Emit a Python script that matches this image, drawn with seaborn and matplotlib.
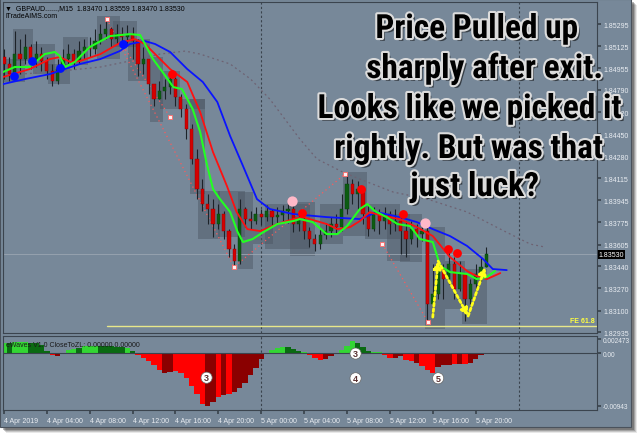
import numpy as np
import matplotlib
matplotlib.use("Agg")
import matplotlib.pyplot as plt
import matplotlib.patheffects as pe
import matplotlib.transforms as mtransforms
from matplotlib import font_manager as fm
from matplotlib.patches import Rectangle
import seaborn as sns

sns.set_theme(style="dark")
plt.rcParams["font.family"] = ["Liberation Sans", "DejaVu Sans"]

# ──────────────────────────────────────────────
# Data (GBPAUD M15, 30-min samples)
# ──────────────────────────────────────────────
first_open = 1.85042
close = [1.84989, 1.84912, 1.85065, 1.85027, 1.85119, 1.85027, 1.85065, 1.85012, 1.84935, 1.84858,
         1.84950, 1.85027, 1.85065, 1.85012, 1.85088, 1.85119, 1.85104, 1.85165, 1.85218, 1.85257,
         1.85180, 1.85218, 1.85195, 1.85218, 1.85165, 1.84989, 1.85027, 1.84835, 1.84720, 1.84782,
         1.84812, 1.84874, 1.84736, 1.84644, 1.84491, 1.84261, 1.84031, 1.83916, 1.83878, 1.83763,
         1.83839, 1.83709, 1.83571, 1.83479, 1.83878, 1.83801, 1.83786, 1.83839, 1.83816, 1.83862,
         1.83816, 1.83832, 1.83862, 1.83878, 1.83763, 1.83801, 1.83709, 1.83648, 1.83609, 1.83678,
         1.83709, 1.83763, 1.83740, 1.83878, 1.84069, 1.83992, 1.84031, 1.83839, 1.83724, 1.83839,
         1.83786, 1.83839, 1.83763, 1.83786, 1.83709, 1.83648, 1.83724, 1.83686, 1.83709, 1.83150,
         1.83226, 1.83418, 1.83341, 1.83456, 1.83265, 1.83380, 1.83188, 1.83303, 1.83380, 1.83433,
         1.83530]
high = [1.85104, 1.85042, 1.85241, 1.85180, 1.85218, 1.85142, 1.85165, 1.85119, 1.85042, 1.84989,
        1.85027, 1.85104, 1.85142, 1.85104, 1.85165, 1.85180, 1.85195, 1.85257, 1.85295, 1.85333,
        1.85272, 1.85295, 1.85272, 1.85287, 1.85272, 1.85180, 1.85119, 1.85027, 1.84835, 1.84858,
        1.84874, 1.84935, 1.84889, 1.84759, 1.84682, 1.84529, 1.84337, 1.84107, 1.83992, 1.83954,
        1.83916, 1.83862, 1.83724, 1.83609, 1.83954, 1.83893, 1.83862, 1.83893, 1.83878, 1.83908,
        1.83878, 1.83893, 1.83908, 1.83939, 1.83916, 1.83862, 1.83816, 1.83740, 1.83686, 1.83724,
        1.83763, 1.83816, 1.83839, 1.83992, 1.84153, 1.84107, 1.84092, 1.84046, 1.83916, 1.83893,
        1.83878, 1.83893, 1.83862, 1.83878, 1.83839, 1.83786, 1.83786, 1.83763, 1.83786, 1.83740,
        1.83456, 1.83479, 1.83456, 1.83571, 1.83510, 1.83479, 1.83380, 1.83341, 1.83456, 1.83510,
        1.83586]
low = [1.84874, 1.84858, 1.84935, 1.84912, 1.84989, 1.84950, 1.84966, 1.84935, 1.84874, 1.84820,
       1.84835, 1.84966, 1.84989, 1.84950, 1.84989, 1.85027, 1.85042, 1.85065, 1.85142, 1.85180,
       1.85119, 1.85142, 1.85119, 1.85142, 1.85027, 1.84897, 1.84912, 1.84759, 1.84667, 1.84720,
       1.84720, 1.84759, 1.84667, 1.84582, 1.84414, 1.84222, 1.83954, 1.83862, 1.83763, 1.83663,
       1.83724, 1.83648, 1.83510, 1.83433, 1.83456, 1.83740, 1.83724, 1.83763, 1.83755, 1.83786,
       1.83755, 1.83770, 1.83786, 1.83770, 1.83701, 1.83709, 1.83648, 1.83586, 1.83556, 1.83571,
       1.83648, 1.83663, 1.83686, 1.83709, 1.83839, 1.83916, 1.83878, 1.83763, 1.83671, 1.83709,
       1.83686, 1.83724, 1.83686, 1.83709, 1.83533, 1.83510, 1.83609, 1.83586, 1.83632, 1.83012,
       1.83073, 1.83188, 1.83188, 1.83303, 1.83188, 1.83249, 1.83019, 1.83150, 1.83265, 1.83326,
       1.83433]

# moving averages (hours since 4 Apr 00:00, price)
green_h = [-0.1, 1.0, 2.4, 3.8, 4.75, 5.2, 5.7, 6.6, 8.0, 9.9, 11.75, 12.7, 13.9, 14.8, 15.8, 16.6,
           17.6, 18.3, 18.9, 19.5, 20.15, 21.1, 21.8, 22.3, 23.2, 24.2, 25.5, 27.0, 27.6, 28.8, 30.1,
           31.1, 32.0, 33.2, 33.9, 34.6, 35.7, 36.7, 37.9, 38.8, 40.0, 40.7, 41.6, 43.2, 44.1, 45.05, 45.8]
green_p = [1.84927, 1.84966, 1.84966, 1.85065, 1.85081, 1.85050, 1.84966, 1.85004, 1.85119, 1.85203,
           1.85218, 1.85211, 1.85027, 1.84927, 1.84812, 1.84797, 1.84644, 1.84468, 1.84230, 1.84031,
           1.83954, 1.83855, 1.83701, 1.83625, 1.83648, 1.83701, 1.83763, 1.83786, 1.83801, 1.83778,
           1.83686, 1.83686, 1.83747, 1.83878, 1.83916, 1.83862, 1.83816, 1.83763, 1.83747, 1.83648,
           1.83625, 1.83441, 1.83395, 1.83380, 1.83341, 1.83357, 1.83403]
red_h = [-0.1, 2.4, 4.3, 5.2, 6.2, 7.1, 9.0, 10.8, 12.2, 13.15, 14.1, 15.5, 17.1, 18.3, 19.5, 20.8,
         21.7, 22.7, 23.9, 25.5, 27.0, 27.9, 30.1, 31.1, 32.3, 33.2, 34.1, 35.4, 36.9, 38.5, 40.0,
         41.6, 43.2, 44.1, 45.05, 46.3]
red_p = [1.84889, 1.84950, 1.85027, 1.85042, 1.85004, 1.85012, 1.85065, 1.85150, 1.85180, 1.85142,
         1.85065, 1.84950, 1.84851, 1.84621, 1.84314, 1.84054, 1.83855, 1.83724, 1.83709, 1.83763,
         1.83801, 1.83816, 1.83763, 1.83724, 1.83740, 1.83786, 1.83854, 1.83824, 1.83801, 1.83740,
         1.83671, 1.83510, 1.83403, 1.83364, 1.83341, 1.83387]
blue_h = [-0.1, 2.0, 4.3, 7.1, 9.0, 10.8, 11.75, 13.15, 14.1, 15.5, 17.1, 18.55, 19.9, 21.1, 22.3,
          23.6, 24.8, 27.0, 30.1, 33.2, 34.8, 36.9, 38.5, 40.0, 41.6, 43.2, 44.7, 45.6, 46.9]
blue_p = [1.84835, 1.84874, 1.84912, 1.84989, 1.85027, 1.85088, 1.85142, 1.85165, 1.85142, 1.85081,
          1.84950, 1.84851, 1.84698, 1.84437, 1.84207, 1.83954, 1.83878, 1.83839, 1.83816, 1.83801,
          1.83854, 1.83816, 1.83778, 1.83724, 1.83671, 1.83595, 1.83494, 1.83418, 1.83410]
slow_h = [1.5, 4.3, 7.1, 9.0, 11.75, 14.55, 16.9, 18.3, 21.1, 23.0, 24.8, 26.2, 27.6, 29.2, 31.6,
          33.2, 36.3, 39.5, 43.2, 46.3, 49.1, 50.5]
slow_p = [1.84912, 1.84927, 1.84950, 1.84966, 1.85012, 1.85065, 1.85088, 1.85065, 1.84989, 1.84874,
          1.84720, 1.84567, 1.84414, 1.84261, 1.84161, 1.84107, 1.84008, 1.83954, 1.83855, 1.83724,
          1.83609, 1.83586]

# signal dots
blue_dot_h = [0.93, 2.6, 5.2, 11.1]
blue_dot_p = [1.84897, 1.85012, 1.84958, 1.85142]
red_dot_h = [15.7, 27.8, 33.3, 37.2, 41.4, 42.3]
red_dot_p = [1.84912, 1.83847, 1.84031, 1.83839, 1.83571, 1.83540]
pink_dot_h = [26.9, 39.3]
pink_dot_p = [1.83939, 1.83770]

# zigzag
zz1_h, zz1_p = [9.6, 21.45, 31.8], [1.85333, 1.83433, 1.84145]
zz2_h, zz2_p = [11.1, 15.5], [1.85127, 1.84583]
zz3_h, zz3_p = [35.3, 39.55], [1.83609, 1.83012]
zz_mark_h = [9.6, 15.5, 21.45, 31.8, 35.3, 39.55]
zz_mark_p = [1.85333, 1.84583, 1.83433, 1.84145, 1.83609, 1.83012]

# hand-drawn wave arrows
wave_h = [40.0, 40.5, 43.3, 44.9]
wave_p = [1.83050, 1.83479, 1.83058, 1.83433]

# grey range boxes: start h, end h, low, high
box_h0 = [-0.09, 0.84, 2.71, 4.10, 5.50, 8.68, 10.17, 11.57, 13.62, 14.55, 16.23, 17.35, 18.10,
          19.96, 21.83, 23.23, 24.35, 26.68, 29.48, 31.62, 33.68, 35.73, 36.94, 39.27, 41.14, 42.72]
box_h1 = [1.96, 2.71, 4.76, 6.16, 7.84, 10.82, 12.41, 13.62, 14.83, 16.42, 18.75, 18.75, 20.15,
          22.48, 23.23, 25.09, 28.54, 29.01, 31.62, 33.86, 36.94, 37.87, 38.99, 41.14, 43.0, 45.06]
box_lo = [1.84851, 1.85012, 1.84912, 1.84835, 1.84981, 1.85027, 1.85119, 1.84858, 1.84544, 1.84644,
          1.84644, 1.83992, 1.83648, 1.83663, 1.83418, 1.83609, 1.83571, 1.83518, 1.83609, 1.83671,
          1.83648, 1.83479, 1.83472, 1.82958, 1.83111, 1.82996]
box_hi = [1.85027, 1.85257, 1.85142, 1.84989, 1.85195, 1.85356, 1.85318, 1.85180, 1.85042, 1.84935,
          1.84720, 1.84720, 1.84016, 1.84016, 1.84008, 1.83839, 1.83916, 1.83931, 1.83916, 1.84161,
          1.83916, 1.83839, 1.83839, 1.83740, 1.83479, 1.83418]

fe_level, fe_start = 1.82981, 9.6
bid = 1.83530
price_ticks = [1.85295, 1.85125, 1.84955, 1.84790, 1.84620, 1.84450, 1.84280, 1.84115,
               1.83945, 1.83775, 1.83605, 1.83440, 1.83270, 1.83100, 1.82935]

# eWaves oscillator (30-min samples) and colour codes
osc = [0.0018, 0.0018, 0.0019, 0.0019, 0.0019, 0.0018, 0.0017, 0.0015, 0.0004, -0.0003,
       -0.0006, -0.0002, 0.0005, 0.0008, 0.0009, 0.0012, 0.0013, 0.0013, 0.0013, 0.0013,
       0.0012, 0.0011, 0.0010, 0.0009, 0.0004, -0.0004, -0.0009, -0.0015, -0.0022, -0.0031,
       -0.0036, -0.0033, -0.0032, -0.0036, -0.0045, -0.0058, -0.0073, -0.0090, -0.0095, -0.0087,
       -0.0078, -0.0075, -0.0073, -0.0070, -0.0063, -0.0053, -0.0040, -0.0026, -0.0010, -0.0002,
       0.0005, 0.0009, 0.0011, 0.0010, 0.0007, 0.0003, 0.0002, -0.0004, -0.0009, -0.0013,
       -0.0010, -0.0005, -0.0001, 0.0006, 0.0013, 0.0021, 0.0017, 0.0010, 0.0004, 0.0001,
       0.0002, -0.0003, -0.0008, -0.0009, -0.0006, -0.0012, -0.0015, -0.0018, -0.0024, -0.0030,
       -0.0035, -0.0025, -0.0022, -0.0021, -0.0019, -0.0020, -0.0019, -0.0017, -0.0010, -0.0004]
osc_kind = ("GgGGGggggR" "rRGGgGGGgg" "gggGgRRRRR" "rrRRRRRRrr" "RrRrrrrrrr"
            "GGGgggGRRR" "rrrGGGgggG" "GRRrrRRrRR" "RrrrRrRrrr")
osc_ticks = [0.002473, 0.0, -0.00943]
osc_tick_labels = ["0.002473", "0.00", "-0.00943"]
wave_num = ["3", "3", "4", "5"]
wave_num_h = [18.9, 32.8, 32.8, 40.5]
wave_num_v = [-0.0044, -0.0001, -0.0045, -0.0045]

time_ticks = [0, 4, 8, 12, 16, 20, 24, 28, 32, 36, 40, 44]
time_labels = ["4 Apr 2019", "4 Apr 04:00", "4 Apr 08:00", "4 Apr 12:00", "4 Apr 16:00",
               "4 Apr 20:00", "5 Apr 00:00", "5 Apr 04:00", "5 Apr 08:00", "5 Apr 12:00",
               "5 Apr 16:00", "5 Apr 20:00"]
day_breaks = [24, 48]

message = ["Price Pulled up", "sharply after exit.", "Looks like we picked it",
           "rightly. But was that", "just luck?"]

# ──────────────────────────────────────────────
# Layout helpers (pixel based, 640 x 439)
# ──────────────────────────────────────────────
W, H = 640, 439
BG = "#778899"
EDGE = "#3b444e"
TXT = "#e9edf2"
SMALL = 5.0


def fx(px):
    return px / W


def fy(py):
    return 1 - py / H


# heavy condensed face for the overlay (Impact-like), best available
fam_names = {f.name for f in fm.fontManager.ttflist}
heavy_fp = fm.FontProperties(family="Noto Sans", weight=900, stretch="extra-condensed", size=28)
for cand in ["Liberation Sans Narrow", "Roboto Condensed", "Open Sans Condensed"]:
    if cand in fam_names:
        heavy_fp = fm.FontProperties(family=cand, weight="bold", size=24)
        break

fig = plt.figure(figsize=(6.4, 4.39), dpi=100)
fig.patch.set_facecolor("white")

# window frame + drop shadow
for k, a in enumerate([0.10, 0.16, 0.22, 0.30]):
    off = 6 - k
    fig.add_artist(Rectangle((fx(off), fy(428 + off)), fx(631), fy(0) - fy(428),
                             transform=fig.transFigure, facecolor="#202020",
                             edgecolor="none", alpha=a, zorder=-3))
fig.add_artist(Rectangle((0, fy(428)), fx(631), fy(0) - fy(428), transform=fig.transFigure,
                         facecolor=BG, edgecolor="#4a525c", lw=0.8, zorder=-2))

ax = fig.add_axes([fx(3), fy(334), fx(597) - fx(3), fy(3) - fy(334)])
ind = fig.add_axes([fx(3), fy(411), fx(597) - fx(3), fy(337) - fy(411)], sharex=ax)

XMIN, XMAX = -0.09, 55.32
for a in (ax, ind):
    a.set_facecolor(BG)
    for s in a.spines.values():
        s.set_color(EDGE)
        s.set_linewidth(0.8)
    a.grid(False)
    for d in day_breaks:
        a.axvline(d, color="#3a434d", lw=0.8, ls=(0, (2, 2)), zorder=1)

# ──────────────────────────────────────────────
# Main price panel
# ──────────────────────────────────────────────
for h0, h1, lo_, hi_ in zip(box_h0, box_h1, box_lo, box_hi):
    ax.add_patch(Rectangle((h0, lo_), h1 - h0, hi_ - lo_, facecolor="#4a5461",
                           edgecolor="none", alpha=0.45, zorder=1.5))

ax.axhline(bid, color="#9aa5b1", lw=0.6, zorder=1.6)
ax.plot([fe_start, XMAX], [fe_level, fe_level], color="#e8e88a", lw=1.0, zorder=2)

t = np.arange(len(close)) * 0.5
c = np.array(close)
o = np.array([first_open] + close[:-1])
hi = np.maximum(np.array(high), np.maximum(o, c))
lo = np.minimum(np.array(low), np.minimum(o, c))
body = np.maximum(np.abs(c - o), 0.00003)
up = c >= o
ax.vlines(t, lo, hi, color="#1c2228", lw=0.8, zorder=3)
ax.bar(t[up], body[up], bottom=np.minimum(o, c)[up], width=0.3, color="#0c5c12",
       edgecolor="#08400c", lw=0.3, zorder=3.5)
ax.bar(t[~up], body[~up], bottom=np.minimum(o, c)[~up], width=0.3, color="#d40000",
       edgecolor="#900000", lw=0.3, zorder=3.5)

sns.lineplot(x=slow_h, y=slow_p, ax=ax, color="#6e6272", lw=0.9, linestyle=(0, (1.5, 2.5)),
             legend=False, zorder=2.5)
for xs, ys in [(zz1_h, zz1_p), (zz2_h, zz2_p), (zz3_h, zz3_p)]:
    sns.lineplot(x=xs, y=ys, ax=ax, color="#ff5a5a", lw=0.9, linestyle=(0, (1, 2.5)),
                 legend=False, zorder=2.6)
sns.lineplot(x=blue_h, y=blue_p, ax=ax, color="#0a14ff", lw=1.3, legend=False, zorder=4)
sns.lineplot(x=red_h, y=red_p, ax=ax, color="#ff1010", lw=1.3, legend=False, zorder=4.1)
sns.lineplot(x=green_h, y=green_p, ax=ax, color="#22ff22", lw=1.5, legend=False, zorder=4.2)

sns.scatterplot(x=blue_dot_h, y=blue_dot_p, ax=ax, color="#0010ff", s=40, linewidth=0, zorder=5)
sns.scatterplot(x=red_dot_h, y=red_dot_p, ax=ax, color="#ff0000", s=40, linewidth=0, zorder=5)
sns.scatterplot(x=pink_dot_h, y=pink_dot_p, ax=ax, color="#ffb8c8", s=55, linewidth=0, zorder=5)
sns.scatterplot(x=zz_mark_h, y=zz_mark_p, ax=ax, color="#fff0f0", marker="s", s=10,
                edgecolor="#ff6a6a", linewidth=0.6, zorder=5)

# hand-drawn yellow wave arrows
for i in range(len(wave_h) - 1):
    ax.annotate("", xy=(wave_h[i + 1], wave_p[i + 1]), xytext=(wave_h[i], wave_p[i]),
                arrowprops=dict(arrowstyle="-|>,head_width=0.18,head_length=0.35",
                                color="#ffff1a", lw=2.0, linestyle=(0, (1, 1)),
                                shrinkA=0, shrinkB=0), zorder=6)

ax.set_xlim(XMIN, XMAX)
ax.set_ylim(1.82928, 1.85464)
ax.yaxis.tick_right()
ax.set_yticks(price_ticks)
ax.set_yticklabels([f"{v:.5f}" for v in price_ticks])
ax.tick_params(axis="y", labelsize=SMALL, labelcolor=TXT, color=EDGE, length=3, pad=1.5,
               direction="out", right=True)
ax.tick_params(axis="x", bottom=False, labelbottom=False)
ax.set_xlabel("")
ax.set_ylabel("")

ytrans = mtransforms.blended_transform_factory(ax.transAxes, ax.transData)
ax.text(1.003, bid, "1.83530", transform=ytrans, ha="left", va="center", fontsize=SMALL,
        color="white", bbox=dict(facecolor="black", edgecolor="none", pad=0.8), zorder=7,
        clip_on=False)
ax.text(0.997, fe_level + 0.00016, "FE 61.8", transform=ytrans, ha="right", va="bottom",
        fontsize=SMALL, color="#ffff40", fontweight="bold", zorder=7)

fig.text(fx(5), fy(9), "\u25BC  GBPAUD......,M15  1.83470 1.83559 1.83470 1.83530",
         fontsize=SMALL, color="black", va="center", ha="left")
fig.text(fx(5), fy(17), "iTradeAIMS.com", fontsize=SMALL, color="black", va="center", ha="left")

# ──────────────────────────────────────────────
# eWaves indicator panel
# ──────────────────────────────────────────────
kind_color = {"G": "#33d633", "g": "#0a6a12", "R": "#ff0000", "r": "#8a0000"}
th = np.arange(len(osc)) * 0.5
ind.bar(th, osc, width=0.5, color=[kind_color[k] for k in osc_kind], lw=0, zorder=2)
ind.axhline(0, color=EDGE, lw=0.8, zorder=3)
ind.set_ylim(-0.01015, 0.00303)
ind.yaxis.tick_right()
ind.set_yticks(osc_ticks)
ind.set_yticklabels(osc_tick_labels)
ind.tick_params(axis="y", labelsize=4.7, labelcolor=TXT, color=EDGE, length=3, pad=1,
                direction="out", right=True)
ind.set_xticks(time_ticks)
ind.set_xticklabels(time_labels, ha="left")
ind.tick_params(axis="x", labelsize=SMALL, labelcolor=TXT, color=EDGE, length=3, pad=2,
                direction="out", bottom=True)
ind.set_xlim(XMIN, XMAX)
ind.text(0.005, 0.88, "eWaves V1.0 CloseToZL: 0.00000 0.00000", transform=ind.transAxes,
         fontsize=SMALL, color="#1a1a1a", va="center", ha="left", zorder=5)
for lab, h_, v_ in zip(wave_num, wave_num_h, wave_num_v):
    ind.text(h_, v_, lab, ha="center", va="center", fontsize=6.5, fontweight="bold",
             color="#5a3030", zorder=6,
             bbox=dict(boxstyle="circle,pad=0.12", facecolor="white", edgecolor="#666",
                       lw=0.5))

# ──────────────────────────────────────────────
# Overlay message
# ──────────────────────────────────────────────
centers = [(477, 30), (485, 70), (470, 110), (469, 150), (475, 188)]
effects = [pe.withSimplePatchShadow(offset=(2, -2), shadow_rgbFace="black", alpha=0.55),
           pe.Stroke(linewidth=3, foreground="#dcdcdc"), pe.Normal()]
for line, (px, py) in zip(message, centers):
    fig.text(fx(px), fy(py), line, ha="center", va="center", fontproperties=heavy_fp,
             color="black", path_effects=effects, zorder=10)

fig.savefig("out.png", dpi=100, facecolor=fig.get_facecolor())
